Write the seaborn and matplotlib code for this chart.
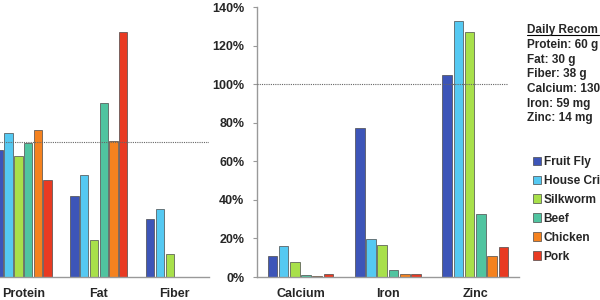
import numpy as np
import pandas as pd
import matplotlib
matplotlib.use("Agg")
import matplotlib.pyplot as plt
from matplotlib.lines import Line2D
import seaborn as sns

# ---------------- data ----------------
categories_left = ["Protein", "Fat", "Fiber"]
categories_right = ["Calcium", "Iron", "Zinc"]
# labels exactly as far as they are visible in the (cropped) reference
foods = ["Fruit Fly", "House Cri", "Silkworm", "Beef", "Chicken", "Pork"]

# share of daily recommendation (1.0 = 100 %), order: Protein, Fat, Fiber, Calcium, Iron, Zinc
fruit_fly = [0.94, 0.60, 0.43, 0.11, 0.775, 1.05]
house_cricket = [1.07, 0.76, 0.505, 0.162, 0.195, 1.33]
silkworm = [0.90, 0.275, 0.17, 0.079, 0.166, 1.27]
beef = [0.99, 1.29, 0.0, 0.012, 0.036, 0.325]
chicken = [1.09, 1.01, 0.0, 0.007, 0.017, 0.107]
pork = [0.72, 1.82, 0.0, 0.014, 0.017, 0.157]

recommendation_title = "Daily Recom"
recommendation_lines = ["Protein: 60 g", "Fat: 30 g", "Fiber: 38 g",
                        "Calcium: 130", "Iron: 59 mg", "Zinc: 14 mg"]
right_ticks = [0.0, 0.2, 0.4, 0.6, 0.8, 1.0, 1.2, 1.4]

colors = ["#3d55b8", "#55c9f2", "#a8e04a", "#50c4a0", "#f5821f", "#e83a22"]

# ---------------- frame ----------------
nutrients = categories_left + categories_right
series = [fruit_fly, house_cricket, silkworm, beef, chicken, pork]
rows = []
for food, vals in zip(foods, series):
    for n, v in zip(nutrients, vals):
        rows.append({"nutrient": n, "food": food, "value": v})
df = pd.DataFrame(rows)
df_l = df[df["nutrient"].isin(categories_left)]
df_r = df[df["nutrient"].isin(categories_right)]

sns.set_style("white")
plt.rcParams["font.family"] = ["Liberation Sans", "DejaVu Sans"]
plt.rcParams["font.weight"] = "bold"

fig = plt.figure(figsize=(6, 3), dpi=100)
W, H = 600.0, 300.0
base_y = 23.0 / H
ax_h = 269.7 / H
ax_l = fig.add_axes([-14.65 / W, base_y, 223.3 / W, ax_h])
ax_r = fig.add_axes([256.7 / W, base_y, 262.3 / W, ax_h])

bar_kw = dict(x="nutrient", y="value", hue="food", hue_order=foods,
              palette=colors, saturation=1, width=0.77, gap=0.14, errorbar=None,
              edgecolor="#4a4a4a", linewidth=0.5)

sns.barplot(data=df_l, order=categories_left, ax=ax_l, legend=False, **bar_kw)
sns.barplot(data=df_r, order=categories_right, ax=ax_r, legend=True, **bar_kw)

spine_c = "#999999"
dot_c = "#666666"
# left panel
ax_l.set_xlim(-0.5, 2.45)
ax_l.set_ylim(0, 2.0)
for s in ["top", "right", "left"]:
    ax_l.spines[s].set_visible(False)
ax_l.spines["bottom"].set_color(spine_c)
ax_l.spines["bottom"].set_linewidth(1.0)
ax_l.set_yticks([])
ax_l.axhline(1.0, color=dot_c, linestyle=(0, (1, 1)), linewidth=0.8, zorder=5)

# right panel
ax_r.set_xlim(-0.5, 2.5)
ax_r.set_ylim(0, 1.4)
for s in ["top", "right"]:
    ax_r.spines[s].set_visible(False)
for s in ["left", "bottom"]:
    ax_r.spines[s].set_color(spine_c)
    ax_r.spines[s].set_linewidth(1.0)
ax_r.set_yticks(right_ticks)
ax_r.set_yticklabels([f"{int(round(v * 100))}%" for v in right_ticks])
ax_r.tick_params(axis="y", direction="out", length=3, width=0.8, color=spine_c,
                 labelsize=9, pad=6, left=True)
ax_r.axhline(1.0, xmax=0.954, color=dot_c, linestyle=(0, (1, 1)),
             linewidth=0.8, zorder=5)

for ax in (ax_l, ax_r):
    ax.set_xlabel("")
    ax.set_ylabel("")
    ax.tick_params(axis="x", length=0, labelsize=9, pad=8)
    for lab in ax.get_xticklabels() + ax.get_yticklabels():
        lab.set_fontweight("bold")

# legend
sns.move_legend(ax_r, "upper left", bbox_to_anchor=(533 / W, 1 - 156 / H),
                bbox_transform=fig.transFigure, frameon=False, title=None,
                fontsize=8.6, handlelength=0.7, handleheight=0.7,
                handletextpad=0.2, labelspacing=0.58, borderpad=0,
                borderaxespad=0)
for t in ax_r.get_legend().get_texts():
    t.set_fontweight("bold")

# daily recommendation block
tx = 527 / W
fig.text(tx, 1 - 30 / H, recommendation_title, fontsize=8.5, fontweight="bold",
         va="center", ha="left")
fig.add_artist(Line2D([tx, 0.999], [1 - 35 / H, 1 - 35 / H], color="black",
                      linewidth=0.8, transform=fig.transFigure))
for i, line in enumerate(recommendation_lines):
    fig.text(tx, 1 - (45 + 14.7 * i) / H, line, fontsize=8.5, fontweight="bold",
             va="center", ha="left")

fig.savefig("out.png", dpi=100)
